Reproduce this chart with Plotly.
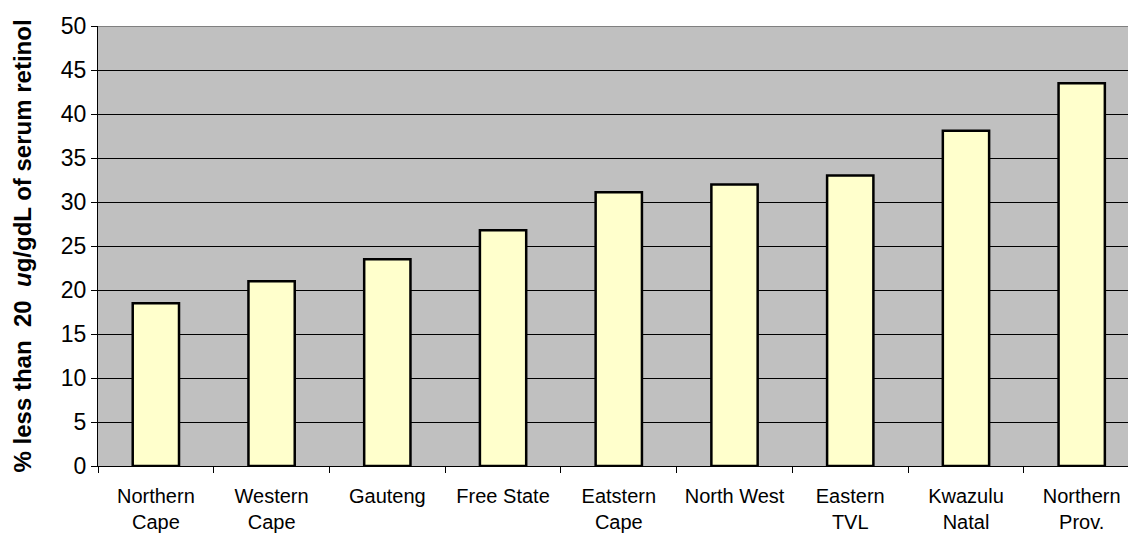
import plotly.graph_objects as go

categories = ["Northern<br>Cape", "Western<br>Cape", "Gauteng", "Free State", "Eatstern<br>Cape",
              "North West", "Eastern<br>TVL", "Kwazulu<br>Natal", "Northern<br>Prov."]
values = [18.5, 21.0, 23.5, 26.8, 31.1, 32.0, 33.0, 38.1, 43.5]
y_ticks = [0, 5, 10, 15, 20, 25, 30, 35, 40, 45, 50]

fig = go.Figure()
fig.add_trace(go.Bar(
    x=categories, y=values,
    marker=dict(color="#ffffcc", line=dict(color="black", width=2.5)),
    width=0.40,
))

fig.update_layout(
    width=1128, height=533,
    margin=dict(l=98, r=0, t=26, b=67),
    paper_bgcolor="white",
    plot_bgcolor="#c0c0c0",
    showlegend=False,
    font=dict(family="Liberation Sans, Arial, sans-serif", color="black"),
    xaxis=dict(
        range=[-0.5, 8.40],
        showline=True, linecolor="black", linewidth=1,
        ticks="outside", ticklen=6, tickcolor="black",
        tickson="boundaries",
        tickfont=dict(size=20),
        showgrid=False,
        ticklabelstandoff=12,
        automargin=False,
    ),
    yaxis=dict(
        range=[0, 50], tickvals=y_ticks,
        showline=True, linecolor="black", linewidth=1,
        ticks="outside", ticklen=6, tickcolor="black",
        tickfont=dict(size=23),
        showgrid=True, gridcolor="black", gridwidth=1,
        zeroline=False,
        automargin=False,
    ),
    shapes=[dict(
        type="line", xref="paper", yref="y", x0=0, x1=1, y0=50, y1=50,
        line=dict(color="#808080", width=2), layer="above",
    )],
    annotations=[dict(
        text="<b>% less than  20  <i>u</i>g/gdL of serum retinol</b>",
        xref="paper", yref="paper",
        x=-76/1030, y=0.499, xanchor="center", yanchor="middle",
        textangle=-90, showarrow=False,
        font=dict(size=24, family="Liberation Sans, Arial, sans-serif", color="black"),
    )],
)

fig.write_html("out.html")
